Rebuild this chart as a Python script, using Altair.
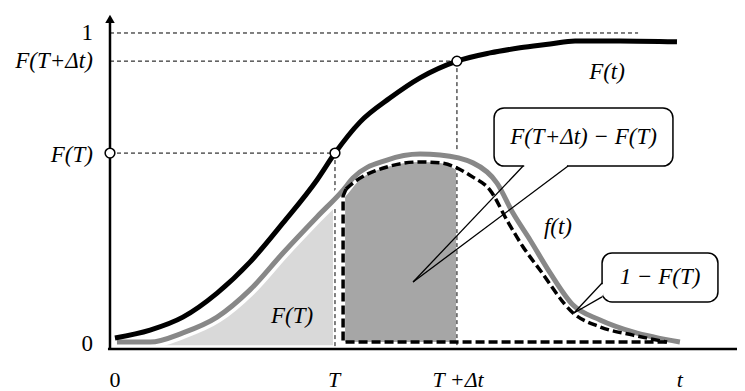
import altair as alt
import pandas as pd

# ---- values (t: time units, F: probability) ----
T = 10.0
T_DT = 15.42
F_AT_T = 0.62
F_AT_TDT = 0.911

# cumulative distribution F(t)
F_t = [0.22, 1.78, 3.24, 4.76, 6.22, 7.69, 9.2, 10.0, 11.11, 12.44, 13.78, 15.42,
       16.89, 18.22, 19.56, 20.67, 22.67, 25.2]
F_v = [0.035, 0.060, 0.101, 0.177, 0.275, 0.399, 0.535, 0.620, 0.718, 0.794, 0.858,
       0.911, 0.937, 0.953, 0.965, 0.975, 0.975, 0.972]

# density f(t)
f_t = [0.31, 1.78, 3.24, 4.76, 6.22, 7.69, 9.2, 10.36, 10.8, 12.31, 13.78, 14.67,
       16.13, 17.2, 17.91, 18.67, 19.56, 20.58, 21.78, 23.24, 25.33]
f_v = [0.022, 0.022, 0.051, 0.101, 0.187, 0.304, 0.418, 0.503, 0.541, 0.598, 0.617,
       0.614, 0.589, 0.525, 0.430, 0.345, 0.241, 0.139, 0.092, 0.054, 0.022]

# shaded area F(T) (0..T)
light_t = [0.31, 1.78, 3.24, 4.76, 6.22, 7.69, 9.2, 9.91]
light_v = [0.022, 0.022, 0.051, 0.101, 0.187, 0.304, 0.418, 0.47]
light_base = 0.012

# shaded area F(T+dt) - F(T)
dark_t = [10.45, 10.49, 10.8, 12.31, 13.78, 14.67, 15.38]
dark_v = [0.484, 0.506, 0.525, 0.576, 0.592, 0.589, 0.567]
dark_base = 0.022

# dashed outline of 1 - F(T)
out_t = [10.49, 10.8, 12.31, 13.78, 14.67, 16.13, 16.89, 17.64, 18.36, 19.11,
         20.58, 21.78, 23.24, 24.76]
out_v = [0.506, 0.525, 0.576, 0.592, 0.589, 0.544, 0.503, 0.408, 0.323, 0.250,
         0.114, 0.070, 0.044, 0.022]
edge_t = [10.49, 10.36, 10.36, 24.76]
edge_v = [0.506, 0.484, 0.022, 0.022]

# callouts: box (t1, t2, F_top, F_bottom), tail base points and tip
box_labels = ["F(T+Δt) − F(T)", "1 − F(T)"]
box_t1 = [17.07, 21.87]
box_t2 = [25.02, 27.02]
box_ftop = [0.763, 0.304]
box_fbot = [0.579, 0.149]
tail_a = [(18.36, 0.579), (21.87, 0.209)]
tail_b = [(20.36, 0.579), (21.87, 0.165)]
tail_tip = [(13.47, 0.212), (20.62, 0.114)]

# labels
ylab_text = ["1", "F(T+Δt)", "F(T)", "0"]
ylab_v = [1.0, 0.911, 0.615, 0.016]
xlab_text = ["0", "T", "T +Δt", "t"]
xlab_t = [0.22, 9.96, 15.47, 25.33]
curve_lab = ["F(t)", "f(t)", "F(T)"]
curve_lab_t = [22.09, 19.91, 8.09]
curve_lab_v = [0.877, 0.386, 0.104]

# ---- layout ----
W, H = 729, 383
xs = alt.Scale(domain=[-4.533, 27.867], nice=False, zero=False)
ys = alt.Scale(domain=[-0.1329, 1.0791], nice=False, zero=False)
SERIF = "Liberation Serif"
FS = 23


def X(f="t"):
    return alt.X(f, type="quantitative", scale=xs, axis=None)


def Y(f="F"):
    return alt.Y(f, type="quantitative", scale=ys, axis=None)


def df(ts, vs, **extra):
    d = pd.DataFrame({"t": ts, "F": vs})
    for k, v in extra.items():
        d[k] = v
    return d


light = alt.Chart(df(light_t, light_v, b=light_base)).mark_area(
    color="#d9d9d9", interpolate="monotone").encode(x=X(), y=Y(), y2="b")
dark = alt.Chart(df(dark_t, dark_v, b=dark_base)).mark_area(
    color="#a6a6a6", interpolate="monotone").encode(x=X(), y=Y(), y2="b")

guides = pd.DataFrame({
    "t": [0, 0, 0, T, T_DT],
    "F": [1.0, F_AT_TDT, F_AT_T, F_AT_T, F_AT_TDT],
    "t2": [23.47, T_DT, T, T, T_DT],
    "F2": [1.0, F_AT_TDT, F_AT_T, 0, 0],
})
guide = alt.Chart(guides).mark_rule(color="black", strokeWidth=1, strokeDash=[4, 3]).encode(
    x=X(), y=Y(), x2="t2", y2="F2")

halo = alt.Chart(df(f_t, f_v)).mark_line(color="white", strokeWidth=12, interpolate="monotone").encode(x=X(), y=Y())
fline = alt.Chart(df(f_t, f_v)).mark_line(color="#888888", strokeWidth=5, interpolate="monotone").encode(x=X(), y=Y())

outc = alt.Chart(df(out_t, out_v)).mark_line(color="black", strokeWidth=3.5, strokeDash=[9, 4],
                                              interpolate="monotone").encode(x=X(), y=Y())
outl = alt.Chart(df(edge_t, edge_v, o=list(range(len(edge_t))))).mark_line(
    color="black", strokeWidth=3.5, strokeDash=[9, 4]).encode(x=X(), y=Y(), order="o:Q")

Fline = alt.Chart(df(F_t, F_v)).mark_line(color="black", strokeWidth=5, interpolate="monotone").encode(x=X(), y=Y())

axes = pd.DataFrame({"t": [0, -0.09], "F": [-0.003, 0], "t2": [0, 27.9], "F2": [1.04, 0]})
axis = alt.Chart(axes).mark_rule(color="black", strokeWidth=2.5).encode(x=X(), y=Y(), x2="t2", y2="F2")
arrow = alt.Chart(df([0], [1.045])).mark_point(shape="triangle-up", size=90, filled=True, color="black",
                                               opacity=1).encode(x=X(), y=Y())

circles = alt.Chart(df([0, T, T_DT], [F_AT_T, F_AT_T, F_AT_TDT])).mark_point(
    shape="circle", size=95, filled=True, fill="white", stroke="black", strokeWidth=1.5, opacity=1
).encode(x=X(), y=Y())

boxes = alt.Chart(pd.DataFrame({"t": box_t1, "t2": box_t2, "F": box_ftop, "F2": box_fbot})).mark_rect(
    fill="white", stroke="black", strokeWidth=1.5, cornerRadius=10).encode(x=X(), x2="t2", y=Y(), y2="F2")

gap = pd.DataFrame({
    "t": [tail_a[0][0] + 0.05, tail_a[1][0]],
    "F": [tail_a[0][1], tail_a[1][1] - 0.004],
    "t2": [tail_b[0][0] - 0.05, tail_b[1][0]],
    "F2": [tail_b[0][1], tail_b[1][1] + 0.004],
})
gaps = alt.Chart(gap).mark_rule(color="white", strokeWidth=3).encode(x=X(), y=Y(), x2="t2", y2="F2")

tails_df = pd.DataFrame({
    "t": [p[0] for p in tail_a + tail_b],
    "F": [p[1] for p in tail_a + tail_b],
    "t2": [p[0] for p in tail_tip + tail_tip],
    "F2": [p[1] for p in tail_tip + tail_tip],
})
tails = alt.Chart(tails_df).mark_rule(color="black", strokeWidth=1.3).encode(x=X(), y=Y(), x2="t2", y2="F2")

box_text = alt.Chart(pd.DataFrame({
    "t": [(a + b) / 2 for a, b in zip(box_t1, box_t2)],
    "F": [(a + b) / 2 for a, b in zip(box_ftop, box_fbot)],
    "label": box_labels,
})).mark_text(font=SERIF, fontSize=FS, fontStyle="italic", align="center", baseline="middle").encode(
    x=X(), y=Y(), text="label")

ylab = pd.DataFrame({"t": [-0.76] * 4, "F": ylab_v, "label": ylab_text})
ylab_it = alt.Chart(ylab.iloc[1:3]).mark_text(font=SERIF, fontSize=FS, fontStyle="italic", align="right",
                                              baseline="middle").encode(x=X(), y=Y(), text="label")
ylab_rm = alt.Chart(ylab.iloc[[0, 3]]).mark_text(font=SERIF, fontSize=FS, align="right",
                                                 baseline="middle").encode(x=X(), y=Y(), text="label")

xlab = pd.DataFrame({"t": xlab_t, "F": [-0.099] * 4, "label": xlab_text})
xlab_it = alt.Chart(xlab.iloc[1:]).mark_text(font=SERIF, fontSize=FS - 1, fontStyle="italic", align="center",
                                             baseline="middle").encode(x=X(), y=Y(), text="label")
xlab_rm = alt.Chart(xlab.iloc[:1]).mark_text(font=SERIF, fontSize=FS - 1, align="center",
                                             baseline="middle").encode(x=X(), y=Y(), text="label")

clab = alt.Chart(pd.DataFrame({"t": curve_lab_t, "F": curve_lab_v, "label": curve_lab})).mark_text(
    font=SERIF, fontSize=FS, fontStyle="italic", align="center", baseline="middle").encode(
    x=X(), y=Y(), text="label")

chart = alt.layer(
    light, dark, guide, halo, fline, outc, outl, Fline, axis, arrow, circles,
    boxes, gaps, tails, box_text, ylab_it, ylab_rm, xlab_it, xlab_rm, clab
).properties(
    width=W, height=H, padding=0, autosize=alt.AutoSizeParams(type="none")
).configure_view(stroke=None)

chart.save("out.html", embed_options={"renderer": "svg", "actions": False})
